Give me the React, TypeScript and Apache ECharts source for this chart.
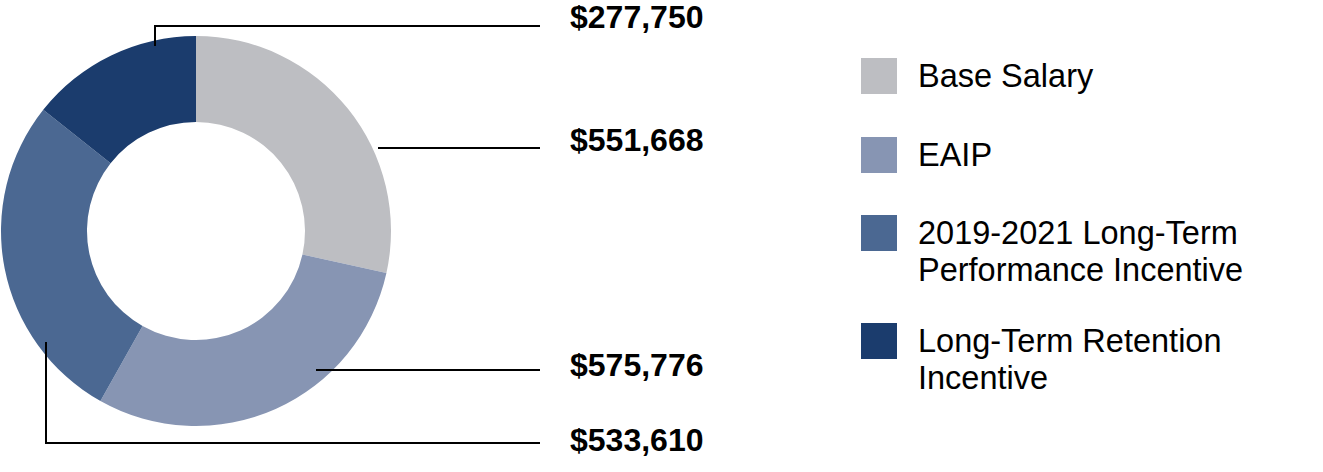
import React, { useEffect, useRef } from 'react';
import * as echarts from 'echarts';

// ---- data ----
const categories = [
  'Base Salary',
  'EAIP',
  '2019-2021 Long-Term Performance Incentive',
  'Long-Term Retention Incentive',
];
const legendLabels = [
  'Base Salary',
  'EAIP',
  '2019-2021 Long-Term\nPerformance Incentive',
  'Long-Term Retention\nIncentive',
];
const values = [551668, 575776, 533610, 277750];

// ---- styles / layout ----
const colors = ['#BDBEC2', '#8795B3', '#4B6892', '#1B3C6D'];
const labelX = 570;
const labelY = [140, 365, 440, 17];
const leaderLines = [
  [[378, 148], [540, 148]],
  [[316, 370], [540, 370]],
  [[46, 342], [46, 443], [540, 443]],
  [[155, 46], [155, 26], [540, 26]],
];
const legendX = 861;
const legendTextX = 918;
const legendTops = [58, 137, 215, 323];
const legendSquare = 36;
const legendFont = 32.5;
const legendLineHeight = 37;
const FONT = 'Liberation Sans, Arial, sans-serif';

export default function App() {
  const ref = useRef<HTMLDivElement>(null);
  useEffect(() => {
    if (!ref.current) return;
    const chart = echarts.init(ref.current, null, { renderer: 'svg' });
    const graphics: any[] = [];
    categories.forEach((_, i) => {
      graphics.push({
        type: 'rect',
        shape: { x: legendX, y: legendTops[i], width: legendSquare, height: legendSquare },
        style: { fill: colors[i] },
      });
      graphics.push({
        type: 'text',
        x: legendTextX,
        y: legendTops[i] + legendSquare / 2 - legendLineHeight / 2,
        style: {
          text: legendLabels[i],
          fill: '#000',
          fontSize: legendFont,
          fontFamily: FONT,
          lineHeight: legendLineHeight,
          verticalAlign: 'top',
          align: 'left',
        },
      });
      graphics.push({
        type: 'polyline',
        z: 100,
        shape: { points: leaderLines[i] },
        style: { stroke: '#000', lineWidth: 2, fill: 'none' },
      });
    });
    chart.setOption({
      animation: false,
      backgroundColor: '#fff',
      graphic: graphics,
      series: [
        {
          type: 'pie',
          center: [196, 231],
          radius: [109, 195],
          startAngle: 90,
          clockwise: true,
          silent: true,
          avoidLabelOverlap: false,
          data: categories.map((name, i) => ({
            name,
            value: values[i],
            itemStyle: { color: colors[i] },
          })),
          label: {
            show: true,
            position: 'outside',
            overflow: 'none',
            formatter: (p: any) => '$' + Number(p.value).toLocaleString('en-US'),
            fontFamily: FONT,
            fontWeight: 'bold',
            fontSize: 32,
            color: '#000',
          },
          labelLine: { show: false },
          labelLayout: (params: any) => ({
            x: labelX,
            y: labelY[params.dataIndex],
            align: 'left',
            verticalAlign: 'middle',
            hideOverlap: false,
          }),
        },
      ],
    });
    return () => chart.dispose();
  }, []);
  return (
    <div
      ref={ref}
      style={{ position: 'fixed', left: 0, top: 0, width: 1323, height: 472 }}
    />
  );
}
